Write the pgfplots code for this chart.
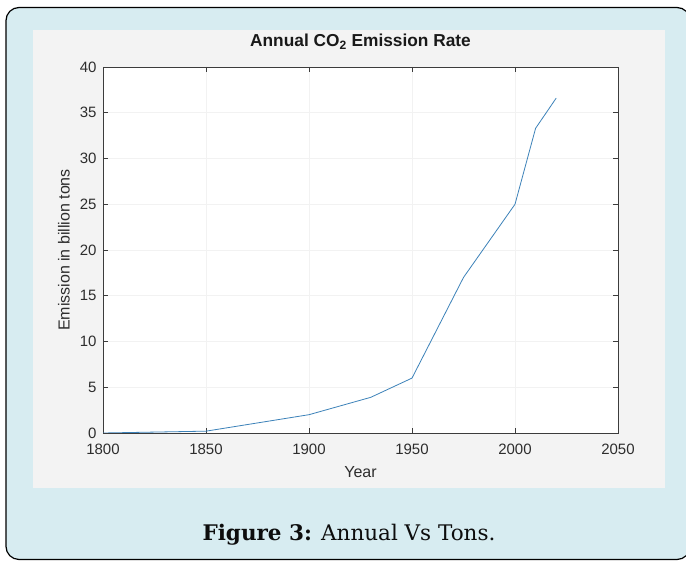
\documentclass[border=0pt]{standalone}
\usepackage{fontspec}
\setmainfont{Liberation Sans}
\newfontfamily\capfont{DejaVu Serif}
\usepackage{pgfplots}
\pgfplotsset{compat=1.18}
\definecolor{bgblue}{RGB}{215,236,241}
\definecolor{panel}{RGB}{243,243,243}
\definecolor{axgray}{RGB}{60,60,60}
\definecolor{txt}{RGB}{45,45,45}
\definecolor{lineblue}{RGB}{60,130,185}
\pgfplotstableread{
year emission
1800 0
1850 0.2
1900 2
1930 3.9
1950 6
1975 17
2000 25
2010 33.3
2020 36.6
}\co
\begin{document}
\begin{tikzpicture}
\useasboundingbox (0,0) rectangle (686pt,561pt);
\draw[line width=1.2pt, fill=bgblue, rounded corners=13pt] (6pt,1.5pt) rectangle (690pt,553.5pt);
\fill[panel] (33pt,73pt) rectangle (665pt,531pt);
\begin{axis}[
  at={(103pt,128pt)}, anchor=south west, scale only axis,
  width=515pt, height=366pt,
  xmin=1800, xmax=2050, ymin=0, ymax=40,
  xtick={1800,1850,...,2050}, ytick={0,5,...,40},
  tick align=inside, major tick length=5pt,
  axis background/.style={fill=white},
  axis line style={axgray, line width=0.8pt},
  tick style={axgray, line width=0.6pt},
  grid=major, grid style={gray!10, line width=0.5pt},
  /pgf/number format/assume math mode=true,
  /pgf/number format/1000 sep={},
  ticklabel style={font=\fontsize{15}{15}\selectfont, text=txt},
  xticklabel style={yshift=-7pt},
  yticklabel style={xshift=-3pt},
  title={\textbf{Annual CO\textsubscript{2} Emission Rate}},
  title style={at={(axis description cs:0.5,1.052)}, anchor=center, font=\fontsize{17.3}{17.3}\selectfont, text=black!90},
  xlabel={Year},
  xlabel style={at={(axis description cs:0.5,-0.1066)}, anchor=center, font=\fontsize{16}{16}\selectfont, text=txt},
  ylabel={Emission in billion tons},
  ylabel style={at={(axis description cs:-0.0757,0.5)}, anchor=center, font=\fontsize{16}{16}\selectfont, text=txt},
]
\addplot[lineblue, line width=0.8pt] table[x=year, y=emission] {\co};
\end{axis}
\node[font=\capfont\fontsize{21.5}{21.5}\selectfont, text=black!95] at (349pt,26pt) {\textbf{Figure 3:} Annual Vs Tons.};
\end{tikzpicture}
\end{document}
